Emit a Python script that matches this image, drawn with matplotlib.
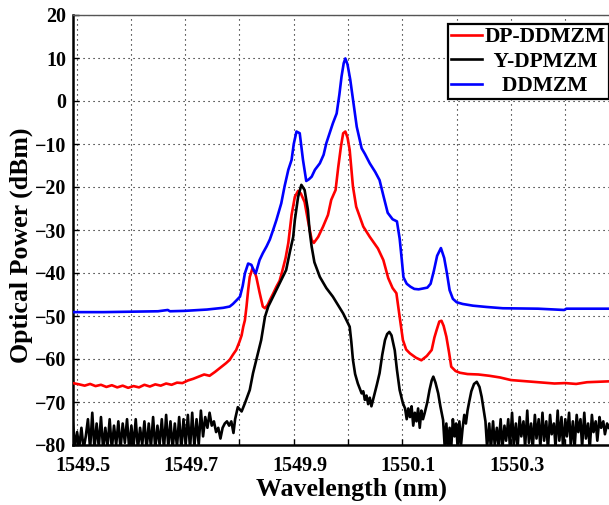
import numpy as np
import matplotlib
matplotlib.use("Agg")
import matplotlib.pyplot as plt
import matplotlib.transforms as mtrans

plt.rcParams['font.family'] = ['Liberation Serif', 'DejaVu Serif']
plt.rcParams['font.weight'] = 'bold'

# ---------------- data ----------------
series_names = ["DP-DDMZM", "Y-DPMZM", "DDMZM"]
series_colors = ["#ff0000", "#000000", "#0000ff"]

wl_blue = [1549.493, 1549.55, 1549.60, 1549.65, 1549.668, 1549.672, 1549.70, 1549.74, 1549.77,
           1549.782, 1549.788, 1549.795, 1549.801, 1549.806, 1549.810, 1549.816, 1549.822,
           1549.826, 1549.830, 1549.837, 1549.843, 1549.850, 1549.856, 1549.862, 1549.868,
           1549.877, 1549.883, 1549.890, 1549.896, 1549.900, 1549.905, 1549.911, 1549.917,
           1549.923, 1549.928, 1549.933, 1549.939, 1549.948, 1549.955, 1549.960, 1549.966,
           1549.972, 1549.979, 1549.984, 1549.988, 1549.992, 1549.995, 1549.999, 1550.004,
           1550.010, 1550.016, 1550.025, 1550.031, 1550.040, 1550.050, 1550.058, 1550.065,
           1550.073, 1550.082, 1550.090, 1550.095, 1550.099, 1550.102, 1550.108, 1550.115,
           1550.122, 1550.130, 1550.138, 1550.146, 1550.152, 1550.158, 1550.164, 1550.171,
           1550.177, 1550.182, 1550.187, 1550.193, 1550.200, 1550.211, 1550.230, 1550.255,
           1550.285, 1550.350, 1550.398, 1550.402, 1550.440, 1550.480]
p_blue = [-49.1, -49.1, -49.0, -48.9, -48.6, -48.9, -48.8, -48.5, -48.1,
          -47.8, -47.2, -46.3, -45.5, -43.0, -40.1, -37.8, -38.1,
          -39.3, -40.1, -37.0, -35.4, -33.8, -32.2, -30.0, -27.7,
          -23.8, -19.9, -16.0, -13.7, -10.0, -7.1, -7.5, -13.7,
          -18.6, -18.2, -17.6, -16.0, -14.5, -12.5, -9.8, -7.5,
          -5.2, -2.9, 1.5, 5.7, 8.8, 9.9, 8.5, 5.0,
          -0.5, -6.0, -11.0, -12.3, -14.5, -16.5, -18.4, -22.0,
          -26.0, -27.5, -28.0, -32.0, -37.0, -41.0, -42.5, -43.2,
          -43.7, -43.8, -43.6, -43.4, -42.5, -39.5, -36.0, -34.2,
          -36.5, -40.0, -44.0, -46.0, -46.8, -47.2, -47.6, -47.9,
          -48.2, -48.3, -48.6, -48.3, -48.3, -48.3]

wl_red = [1549.493, 1549.505, 1549.515, 1549.525, 1549.535, 1549.545, 1549.555, 1549.565,
          1549.575, 1549.585, 1549.595, 1549.605, 1549.615, 1549.625, 1549.635, 1549.645,
          1549.655, 1549.665, 1549.675, 1549.685, 1549.695, 1549.705, 1549.715, 1549.725,
          1549.735, 1549.745, 1549.755, 1549.765, 1549.775, 1549.782, 1549.788, 1549.794,
          1549.800, 1549.804, 1549.807, 1549.810, 1549.813, 1549.816, 1549.819, 1549.824,
          1549.828, 1549.831, 1549.837, 1549.843, 1549.847, 1549.852, 1549.856, 1549.862,
          1549.868, 1549.874, 1549.880, 1549.885, 1549.890, 1549.896, 1549.902, 1549.908,
          1549.913, 1549.920, 1549.926, 1549.933, 1549.937, 1549.945, 1549.954, 1549.963,
          1549.969, 1549.977, 1549.982, 1549.987, 1549.991, 1549.995, 1549.999, 1550.003,
          1550.009, 1550.015, 1550.028, 1550.040, 1550.055, 1550.065, 1550.074, 1550.082,
          1550.089, 1550.095, 1550.101, 1550.107, 1550.114, 1550.125, 1550.135, 1550.145,
          1550.154, 1550.159, 1550.163, 1550.168, 1550.172, 1550.176, 1550.181, 1550.186,
          1550.190, 1550.198, 1550.206, 1550.220, 1550.240, 1550.260, 1550.280, 1550.300,
          1550.320, 1550.340, 1550.360, 1550.380, 1550.400, 1550.420, 1550.440, 1550.460,
          1550.480]
p_red = [-65.6, -65.9, -66.2, -65.8, -66.3, -66.0, -66.5, -66.1,
         -66.6, -66.2, -66.7, -66.3, -66.6, -66.0, -66.4, -65.9,
         -66.2, -65.7, -66.0, -65.5, -65.6, -65.0, -64.6, -64.1,
         -63.6, -63.9, -63.0, -62.0, -61.0, -60.2, -59.0, -57.9,
         -56.0, -54.5, -52.5, -51.0, -47.8, -44.0, -40.9, -38.9,
         -39.8, -40.9, -44.5, -47.8, -48.2, -47.4, -46.3, -44.8,
         -43.2, -41.8, -39.0, -36.5, -33.0, -26.5, -22.3, -20.9,
         -21.5, -23.5, -27.7, -32.3, -33.0, -31.6, -29.2, -26.5,
         -23.0, -20.7, -15.3, -10.5, -7.5, -7.1, -8.5, -11.4,
         -19.9, -24.6, -29.2, -31.6, -34.3, -37.0, -41.2, -43.5,
         -44.7, -50.2, -55.6, -57.8, -58.7, -59.7, -60.3, -59.3,
         -57.9, -55.0, -53.3, -51.3, -51.1, -52.3, -54.8, -58.5,
         -61.8, -62.8, -63.2, -63.5, -63.6, -63.9, -64.3, -64.9,
         -65.1, -65.3, -65.5, -65.7, -65.6, -65.8, -65.4, -65.3,
         -65.2]

wl_black = [1549.493, 1549.497, 1549.501, 1549.505, 1549.509, 1549.513, 1549.517, 1549.521,
            1549.525, 1549.529, 1549.533, 1549.537, 1549.541, 1549.545, 1549.549, 1549.553,
            1549.557, 1549.561, 1549.565, 1549.569, 1549.573, 1549.577, 1549.581, 1549.585,
            1549.589, 1549.593, 1549.597, 1549.601, 1549.605, 1549.609, 1549.613, 1549.617,
            1549.621, 1549.625, 1549.629, 1549.633, 1549.637, 1549.641, 1549.645, 1549.649,
            1549.653, 1549.657, 1549.661, 1549.665, 1549.669, 1549.673, 1549.677, 1549.681,
            1549.685, 1549.689, 1549.693, 1549.697, 1549.701, 1549.705, 1549.709, 1549.713,
            1549.717, 1549.721, 1549.725, 1549.729, 1549.733, 1549.737, 1549.741, 1549.745,
            1549.749, 1549.753, 1549.757, 1549.761, 1549.765, 1549.769, 1549.773, 1549.777,
            1549.781, 1549.785, 1549.789, 1549.792, 1549.797, 1549.804, 1549.810, 1549.819,
            1549.825, 1549.834, 1549.840, 1549.847, 1549.853, 1549.865, 1549.877, 1549.886,
            1549.893, 1549.899, 1549.902, 1549.908, 1549.914, 1549.920, 1549.926, 1549.929,
            1549.933, 1549.938, 1549.948, 1549.960, 1549.972, 1549.991, 1550.003, 1550.006,
            1550.009, 1550.013, 1550.018, 1550.025, 1550.028, 1550.031, 1550.034, 1550.037,
            1550.040, 1550.043, 1550.046, 1550.049, 1550.053, 1550.058, 1550.063, 1550.068,
            1550.072, 1550.076, 1550.080, 1550.086, 1550.090, 1550.095, 1550.101, 1550.105,
            1550.108, 1550.111, 1550.114, 1550.117, 1550.120, 1550.123, 1550.126, 1550.129,
            1550.132, 1550.135, 1550.138, 1550.141, 1550.146, 1550.150, 1550.154, 1550.157,
            1550.161, 1550.166, 1550.170, 1550.175, 1550.178, 1550.181, 1550.184, 1550.187,
            1550.190, 1550.193, 1550.196, 1550.199, 1550.202, 1550.205, 1550.208, 1550.211,
            1550.214, 1550.217, 1550.220, 1550.223, 1550.227, 1550.232, 1550.237, 1550.242,
            1550.246, 1550.250, 1550.253, 1550.256, 1550.260, 1550.263, 1550.267, 1550.270,
            1550.274, 1550.277, 1550.281, 1550.284, 1550.288, 1550.291, 1550.295, 1550.298,
            1550.302, 1550.305, 1550.309, 1550.312, 1550.316, 1550.319, 1550.323, 1550.326,
            1550.330, 1550.333, 1550.337, 1550.340, 1550.344, 1550.347, 1550.351, 1550.354,
            1550.358, 1550.361, 1550.365, 1550.368, 1550.372, 1550.375, 1550.379, 1550.382,
            1550.386, 1550.389, 1550.393, 1550.396, 1550.400, 1550.403, 1550.407, 1550.410,
            1550.414, 1550.417, 1550.421, 1550.424, 1550.428, 1550.431, 1550.435, 1550.438,
            1550.442, 1550.445, 1550.449, 1550.452, 1550.456, 1550.459, 1550.463, 1550.466,
            1550.470, 1550.473, 1550.477, 1550.480]
p_black = [-74.5, -80.5, -77.0, -80.5, -76.0, -81.0, -78.0, -74.0,
           -81.0, -72.5, -81.0, -75.0, -80.5, -73.5, -81.0, -76.0,
           -80.5, -74.0, -81.0, -75.5, -80.0, -74.5, -81.0, -75.0,
           -79.5, -74.0, -81.0, -75.5, -80.5, -74.0, -81.0, -76.0,
           -80.0, -74.5, -81.0, -75.0, -80.5, -73.5, -81.0, -75.5,
           -80.0, -74.0, -81.0, -73.0, -80.5, -74.5, -81.0, -75.0,
           -80.5, -73.5, -81.0, -74.0, -80.0, -73.0, -81.0, -72.5,
           -80.5, -74.0, -80.0, -72.0, -78.0, -73.5, -76.0, -72.5,
           -75.5, -74.5, -77.0, -76.0, -78.5, -76.0, -75.0, -74.5,
           -75.5, -74.5, -77.2, -74.0, -71.2, -72.2, -70.3, -67.2,
           -63.3, -58.7, -55.6, -50.2, -47.8, -44.7, -41.6, -39.3,
           -35.0, -31.6, -27.7, -22.3, -19.5, -20.7, -25.3, -30.0,
           -33.9, -37.5, -40.9, -43.5, -45.5, -49.4, -52.5, -56.0,
           -60.2, -63.5, -65.7, -68.0, -67.5, -69.5, -68.5, -70.5,
           -69.0, -71.0, -69.5, -68.0, -66.0, -63.3, -59.0, -55.6,
           -54.2, -53.7, -54.5, -58.0, -62.5, -67.2, -70.3, -71.5,
           -74.0, -71.5, -73.5, -71.0, -75.5, -72.5, -74.5, -71.5,
           -76.0, -72.0, -74.0, -72.6, -70.0, -67.2, -65.0, -64.1,
           -65.5, -68.0, -71.0, -74.2, -80.5, -75.0, -81.0, -76.0,
           -80.5, -74.0, -78.0, -75.0, -81.0, -74.5, -80.0, -76.0,
           -73.0, -75.0, -72.0, -70.0, -67.5, -65.8, -65.3, -66.5,
           -68.8, -72.0, -74.5, -80.5, -75.0, -81.0, -74.5, -80.0,
           -76.0, -80.5, -74.0, -81.0, -75.5, -79.0, -74.0, -80.5,
           -72.5, -80.0, -75.0, -81.0, -73.5, -78.0, -74.5, -80.5,
           -72.0, -79.5, -75.0, -81.0, -73.0, -78.5, -74.0, -80.5,
           -72.5, -79.0, -74.5, -81.0, -73.0, -77.5, -75.0, -80.5,
           -72.0, -79.0, -73.5, -81.0, -74.0, -78.0, -72.5, -80.0,
           -74.5, -81.0, -73.0, -77.0, -74.0, -80.5, -72.5, -78.5,
           -75.0, -81.0, -73.0, -77.0, -74.5, -79.0, -73.5, -76.0,
           -74.5, -77.5, -75.0, -76.0]

x_ticks = [1549.5, 1549.6, 1549.7, 1549.8, 1549.9, 1550.0, 1550.1, 1550.2, 1550.3, 1550.4]
x_ticklabels = ["1549.5", "", "1549.7", "", "1549.9", "", "1550.1", "", "1550.3", ""]
y_ticks = [-80, -70, -60, -50, -40, -30, -20, -10, 0, 10, 20]

# ---------------- figure ----------------
W, H = 609, 505
fig = plt.figure(figsize=(W / 100, H / 100), dpi=100)
ax = fig.add_axes([73 / W, 1 - 445 / H, 536 / W, 430 / H])

lw = 1.9
l_red, = ax.plot(wl_red, p_red, color=series_colors[0], lw=lw, zorder=3)
l_black, = ax.plot(wl_black, p_black, color=series_colors[1], lw=lw, zorder=4)
l_blue, = ax.plot(wl_blue, p_blue, color=series_colors[2], lw=lw, zorder=3)

ax.set_xlim(1549.4935, 1550.4805)
ax.set_ylim(-80, 20)
ax.set_xticks(x_ticks)
ax.set_xticklabels(x_ticklabels)
ax.set_yticks(y_ticks)
ax.tick_params(axis='both', direction='in', length=4, width=1, labelsize=14.4)
ax.tick_params(axis='x', pad=8)
ax.tick_params(axis='y', pad=5)
for lab in ax.get_xticklabels():
    lab.set_fontweight('bold')
    lab.set_transform(lab.get_transform() + mtrans.ScaledTranslation(0.06, 0, fig.dpi_scale_trans))
for lab in ax.get_yticklabels():
    lab.set_fontweight('bold')

ax.grid(True, color='black', linestyle=(0, (1, 3.5)), linewidth=0.8)

for side in ['left', 'bottom']:
    ax.spines[side].set_linewidth(1.8)
ax.spines['top'].set_linewidth(1.0)
ax.spines['top'].set_color('#555555')
ax.spines['right'].set_visible(False)

ax.set_xlabel("Wavelength (nm)", fontsize=18.6, fontweight='bold')
ax.set_ylabel("Optical Power (dBm)", fontsize=18.6, fontweight='bold')
ax.xaxis.set_label_coords(0.5205, -0.102)
ax.yaxis.set_label_coords(-0.097, 0.465)
ax.xaxis.label.set_va('center')
ax.yaxis.label.set_va('center')

ts = "\u2009"
labels = [series_names[0], ts * 2 + series_names[1], ts * 4 + series_names[2]]
leg = ax.legend([l_red, l_black, l_blue], labels, loc='upper right',
                bbox_to_anchor=(1.0, 1 - 9 / 430), borderaxespad=0,
                prop={'family': ['Liberation Serif', 'DejaVu Serif'], 'weight': 'bold', 'size': 15.5},
                handlelength=1.4, handletextpad=0.15, borderpad=0.15, labelspacing=0.2,
                fancybox=False, framealpha=1, edgecolor='black')
leg.get_frame().set_linewidth(1.6)
leg.set_zorder(10)

fig.savefig("out.png", dpi=100)
